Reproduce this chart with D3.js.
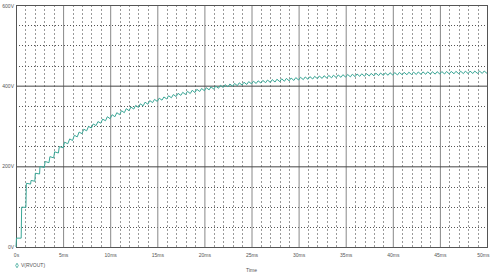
<!DOCTYPE html>
<html>
<head>
<meta charset="utf-8">
<script src="https://cdn.jsdelivr.net/npm/d3@7"></script>
<style>
  body { margin: 0; background: #fff; }
  svg { display: block; }
</style>
</head>
<body>
<div id="viz"></div>
<script>
const width = 491;
const height = 274;
const font = "Liberation Sans, Arial, sans-serif";

// axis ticks (ms / volts) and their labels
const timeTicks = [0, 5, 10, 15, 20, 25, 30, 35, 40, 45, 50];
const timeLabels = ["0s", "5ms", "10ms", "15ms", "20ms", "25ms", "30ms", "35ms", "40ms", "45ms", "50ms"];
const voltTicks = [0, 200, 400, 600];
const voltLabels = ["0V", "200V", "400V", "600V"];
const seriesName = "V(RVOUT)";

// V(RVOUT) waveform vertices: time (ms) and volts
const tMs = [
  0, 0.05, 0.55, 0.6, 1.05, 1.1, 1.55, 1.6, 2.0, 2.05, 2.5, 2.55, 3.0, 3.1, 3.5, 3.6, 4.0, 4.1, 4.5, 4.6,
  5.0, 5.15, 5.5, 5.7, 6.0, 6.2, 6.5, 6.7, 7.0, 7.2, 7.5, 7.7, 8.0, 8.2, 8.5, 8.7, 9.0, 9.2, 9.5, 9.7,
  10.0, 10.2, 10.5, 10.7, 11.0, 11.2, 11.5, 11.7, 12.0, 12.2, 12.5, 12.7, 13.0, 13.2, 13.5, 13.7, 14.0, 14.2, 14.5, 14.7,
  15.0, 15.2, 15.5, 15.7, 16.0, 16.2, 16.5, 16.7, 17.0, 17.2, 17.5, 17.7, 18.0, 18.2, 18.5, 18.7, 19.0, 19.2, 19.5, 19.7,
  20.0, 20.2, 20.5, 20.7, 21.0, 21.2, 21.5, 21.7, 22.0, 22.2, 22.5, 22.7, 23.0, 23.2, 23.5, 23.7, 24.0, 24.2, 24.5, 24.7,
  25.0, 25.2, 25.5, 25.7, 26.0, 26.2, 26.5, 26.7, 27.0, 27.2, 27.5, 27.7, 28.0, 28.2, 28.5, 28.7, 29.0, 29.2, 29.5, 29.7,
  30.0, 30.2, 30.5, 30.7, 31.0, 31.2, 31.5, 31.7, 32.0, 32.2, 32.5, 32.7, 33.0, 33.2, 33.5, 33.7, 34.0, 34.2, 34.5, 34.7,
  35.0, 35.2, 35.5, 35.7, 36.0, 36.2, 36.5, 36.7, 37.0, 37.2, 37.5, 37.7, 38.0, 38.2, 38.5, 38.7, 39.0, 39.2, 39.5, 39.7,
  40.0, 40.2, 40.5, 40.7, 41.0, 41.2, 41.5, 41.7, 42.0, 42.2, 42.5, 42.7, 43.0, 43.2, 43.5, 43.7, 44.0, 44.2, 44.5, 44.7,
  45.0, 45.2, 45.5, 45.7, 46.0, 46.2, 46.5, 46.7, 47.0, 47.2, 47.5, 47.7, 48.0, 48.2, 48.5, 48.7, 49.0, 49.2, 49.5, 49.7,
  50.0
];
const vOut = [
  0, 22, 22, 99, 98, 158, 156, 165, 163, 183, 181, 200, 197, 212, 209, 224, 221, 236, 233, 249,
  246, 260, 256, 268, 264, 277, 273, 285, 281, 292, 288, 299, 295, 305, 301, 311, 307, 317, 313, 323,
  318, 328, 323, 333, 328, 338, 333, 343, 338, 347, 342, 351, 346, 355, 350, 359, 354, 363, 358, 366,
  361, 369, 364, 372, 367, 375, 370, 378, 373, 381, 376, 383.5, 378, 386, 380.5, 388.5, 383, 391, 385.5, 393,
  387.5, 395, 389.5, 397, 391.5, 399, 393.5, 401, 395.5, 402.5, 397, 404, 398.5, 405.5, 400, 407, 401.5, 408.5, 403, 410,
  404.5, 411, 405.5, 412, 406.5, 413, 407.5, 414, 408, 415, 409, 416, 410, 417, 411, 418, 412, 419, 413, 420,
  414, 420.8, 415, 421.6, 415.8, 422.4, 416.5, 423.2, 417.3, 424, 418, 424.7, 418.8, 425.4, 419.4, 426, 420, 426.6, 420.6, 427.2,
  421.2, 427.8, 421.8, 428.4, 422.4, 429, 423, 429.5, 423.5, 430, 424, 430.5, 424.5, 431, 425, 431.4, 425.4, 431.8, 425.8, 432.2,
  426.2, 432.5, 426.5, 432.8, 426.8, 433.1, 427.1, 433.4, 427.4, 433.7, 427.7, 434, 428, 434.2, 428.2, 434.4, 428.4, 434.6, 428.6, 434.8,
  428.8, 435, 429, 435.2, 429.2, 435.4, 429.4, 435.6, 429.6, 435.8, 429.8, 436, 430, 436.1, 430.1, 436.2, 430.2, 436.3, 430.3, 436.4,
  430.4
];

const margin = { top: 5, right: 4, bottom: 27, left: 16 };
const innerWidth = width - margin.left - margin.right;
const innerHeight = height - margin.top - margin.bottom;

const svg = d3.select("#viz")
    .append("svg")
    .attr("width", width)
    .attr("height", height)
    .attr("font-family", font);

const xScale = d3.scaleLinear().domain([0, 50]).range([0, innerWidth]);
const yScale = d3.scaleLinear().domain([0, 600]).range([innerHeight, 0]);

const g = svg.append("g")
    .attr("transform", `translate(${margin.left}, ${margin.top})`);

// minor grid: every 1ms and every 50V
const minorX = xScale.ticks(50).filter(t => t % 5 !== 0);
const minorY = yScale.ticks(12).filter(v => v % 200 !== 0);

g.selectAll(".minor-x")
    .data(minorX)
    .enter().append("line")
    .attr("x1", d => Math.round(xScale(d)) + 0.5)
    .attr("x2", d => Math.round(xScale(d)) + 0.5)
    .attr("y1", 0)
    .attr("y2", innerHeight)
    .attr("stroke", "#9a9a9a")
    .attr("stroke-dasharray", "2,2");

g.selectAll(".minor-y")
    .data(minorY)
    .enter().append("line")
    .attr("x1", 0)
    .attr("x2", innerWidth)
    .attr("y1", d => Math.round(yScale(d)) + 0.5)
    .attr("y2", d => Math.round(yScale(d)) + 0.5)
    .attr("stroke", "#555")
    .attr("stroke-dasharray", "1,2");

// major grid via axes
const xAxis = d3.axisBottom(xScale)
    .tickValues(timeTicks)
    .tickFormat((d, i) => timeLabels[i])
    .tickSize(-innerHeight)
    .tickPadding(6);

const yAxis = d3.axisLeft(yScale)
    .tickValues(voltTicks)
    .tickFormat((d, i) => voltLabels[i])
    .tickSize(-innerWidth)
    .tickPadding(2);

const xAxisG = g.append("g")
    .attr("transform", `translate(0, ${innerHeight})`)
    .call(xAxis)
    .attr("font-size", 5)
    .attr("font-family", font);
xAxisG.select(".domain").remove();
xAxisG.selectAll("line").attr("stroke", "#888");
xAxisG.selectAll("text")
    .attr("fill", "#555")
    .attr("text-anchor", (d, i) => i === timeTicks.length - 1 ? "end" : "middle")
    .attr("x", (d, i) => i === timeTicks.length - 1 ? 2 : 0);

const yAxisG = g.append("g")
    .call(yAxis)
    .attr("font-size", 5)
    .attr("font-family", font);
yAxisG.select(".domain").remove();
yAxisG.selectAll("line").attr("stroke", "#444");
yAxisG.selectAll("text")
    .attr("fill", "#555")
    .attr("dy", (d, i) => i === voltTicks.length - 1 ? "0.5em" : "0.32em");

// plot frame
g.append("rect")
    .attr("x", 0.5)
    .attr("y", 0.5)
    .attr("width", innerWidth)
    .attr("height", innerHeight)
    .attr("fill", "none")
    .attr("stroke", "#555");

// the trace
const points = tMs.map((t, i) => ({ t: t, v: vOut[i] }));
const lineGenerator = d3.line()
    .x(d => xScale(d.t))
    .y(d => yScale(d.v));

g.append("path")
    .attr("d", lineGenerator(points))
    .attr("fill", "none")
    .attr("stroke", "#3aa797")
    .attr("stroke-width", 1);

// x axis title
svg.append("text")
    .attr("x", margin.left + innerWidth / 2)
    .attr("y", 271.5)
    .attr("text-anchor", "middle")
    .attr("font-size", 5)
    .attr("fill", "#555")
    .text("Time");

// legend
const legend = svg.append("g").attr("transform", "translate(17, 265.5)");
legend.append("path")
    .attr("d", d3.symbol().type(d3.symbolDiamond).size(6))
    .attr("fill", "none")
    .attr("stroke", "#3aa797")
    .attr("stroke-width", 0.8);
legend.append("text")
    .attr("x", 4)
    .attr("y", 1.8)
    .attr("font-size", 5)
    .attr("fill", "#555")
    .text(seriesName);
</script>
</body>
</html>
